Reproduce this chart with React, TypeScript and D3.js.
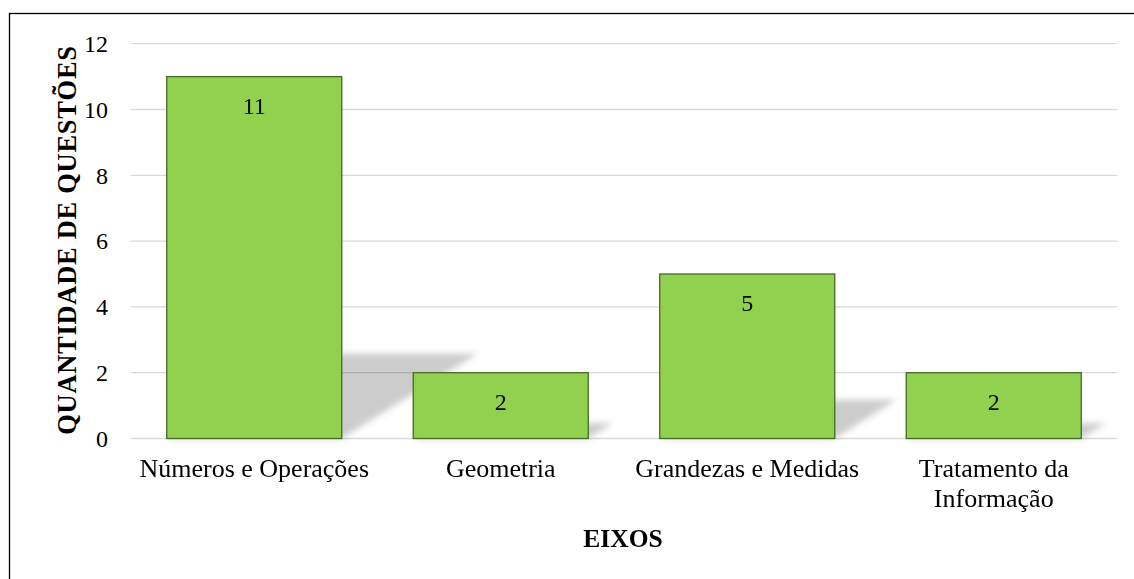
import { useRef, useEffect } from "react";
import * as d3 from "d3";

const categories = [
  ["Números e Operações"],
  ["Geometria"],
  ["Grandezas e Medidas"],
  ["Tratamento da", "Informação"],
];
const values = [11, 2, 5, 2];
const yTicks = [0, 2, 4, 6, 8, 10, 12];

const FONT = "'Liberation Serif', 'Times New Roman', serif";

const App = () => {
  const svgRef = useRef<SVGSVGElement | null>(null);

  useEffect(() => {
    const width = 1134;
    const height = 579;
    const plot = { left: 131, right: 1117, top: 43.7, bottom: 438.5 };

    const svg = d3.select(svgRef.current);
    svg.selectAll("*").remove();

    // filtro de sombra borrada
    const defs = svg.append("defs");
    defs
      .append("filter")
      .attr("id", "blur")
      .attr("x", "-20%")
      .attr("y", "-20%")
      .attr("width", "140%")
      .attr("height", "140%")
      .append("feGaussianBlur")
      .attr("stdDeviation", 3);

    svg
      .append("rect")
      .attr("width", width)
      .attr("height", height)
      .attr("fill", "#fff");

    // moldura (só aparecem topo e esquerda)
    svg
      .append("rect")
      .attr("x", 9.5)
      .attr("y", 13.5)
      .attr("width", 2000)
      .attr("height", 1000)
      .attr("fill", "none")
      .attr("stroke", "#000")
      .attr("stroke-width", 1.3);

    const idx = values.map((_, i) => i);
    const x = d3
      .scaleBand<number>()
      .domain(idx)
      .range([plot.left, plot.right])
      .paddingInner(0.29)
      .paddingOuter(0.145);

    const y = d3.scaleLinear().domain([0, 12]).range([plot.bottom, plot.top]);

    // linhas de grade
    svg
      .append("g")
      .selectAll("line")
      .data(yTicks)
      .join("line")
      .attr("x1", plot.left)
      .attr("x2", plot.right)
      .attr("y1", (d) => y(d))
      .attr("y2", (d) => y(d))
      .attr("stroke", "#d9d9d9")
      .attr("stroke-width", 1.3);

    // rótulos do eixo y
    svg
      .append("g")
      .selectAll("text")
      .data(yTicks)
      .join("text")
      .attr("x", 108)
      .attr("y", (d) => y(d) + 8.3)
      .attr("text-anchor", "end")
      .attr("font-family", FONT)
      .attr("font-size", 24)
      .attr("fill", "#000")
      .text((d) => d);

    // sombras em perspectiva
    const shadowK = 0.235;
    const skew = 1.6;
    svg
      .append("g")
      .attr("filter", "url(#blur)")
      .selectAll("polygon")
      .data(idx)
      .join("polygon")
      .attr("points", (i) => {
        const x0 = x(i)!;
        const x1 = x0 + x.bandwidth();
        const h = (y(0) - y(values[i])) * shadowK;
        const b = y(0);
        return [
          [x0, b],
          [x1, b],
          [x1 + h * skew, b - h],
          [x0 + h * skew, b - h],
        ]
          .map((p) => p.join(","))
          .join(" ");
      })
      .attr("fill", "#000")
      .attr("opacity", 0.2);

    // barras
    svg
      .append("g")
      .selectAll("rect")
      .data(idx)
      .join("rect")
      .attr("x", (i) => x(i)!)
      .attr("y", (i) => y(values[i]))
      .attr("width", x.bandwidth())
      .attr("height", (i) => y(0) - y(values[i]))
      .attr("fill", "#92d050")
      .attr("stroke", "#436b26")
      .attr("stroke-width", 1.3);

    // rótulos de dados
    svg
      .append("g")
      .selectAll("text")
      .data(idx)
      .join("text")
      .attr("x", (i) => x(i)! + x.bandwidth() / 2)
      .attr("y", (i) => y(values[i]) + 37)
      .attr("text-anchor", "middle")
      .attr("font-family", FONT)
      .attr("font-size", 24)
      .attr("fill", "#000")
      .text((i) => values[i]);

    // categorias
    const cat = svg
      .append("g")
      .selectAll("text")
      .data(idx)
      .join("text")
      .attr("x", (i) => x(i)! + x.bandwidth() / 2)
      .attr("y", 477)
      .attr("text-anchor", "middle")
      .attr("font-family", FONT)
      .attr("font-size", 26)
      .attr("fill", "#000");
    cat
      .selectAll("tspan")
      .data((i) => categories[i].map((t) => ({ t, cx: x(i)! + x.bandwidth() / 2 })))
      .join("tspan")
      .attr("x", (d) => d.cx)
      .attr("dy", (_, j) => (j === 0 ? 0 : 30))
      .text((d) => d.t);

    // títulos dos eixos
    svg
      .append("text")
      .attr("x", 623)
      .attr("y", 547)
      .attr("text-anchor", "middle")
      .attr("font-family", FONT)
      .attr("font-weight", "bold")
      .attr("font-size", 25.5)
      .text("EIXOS");

    svg
      .append("text")
      .attr("transform", "translate(76,240) rotate(-90)")
      .attr("text-anchor", "middle")
      .attr("font-family", FONT)
      .attr("font-weight", "bold")
      .attr("font-size", 26.5)
      .attr("letter-spacing", 0.7)
      .text("QUANTIDADE DE QUESTÕES");
  }, []);

  return (
    <div style={{ position: "absolute", left: 0, top: 0 }}>
      <svg ref={svgRef} width={1134} height={579} style={{ display: "block" }} />
    </div>
  );
};

export default App;
